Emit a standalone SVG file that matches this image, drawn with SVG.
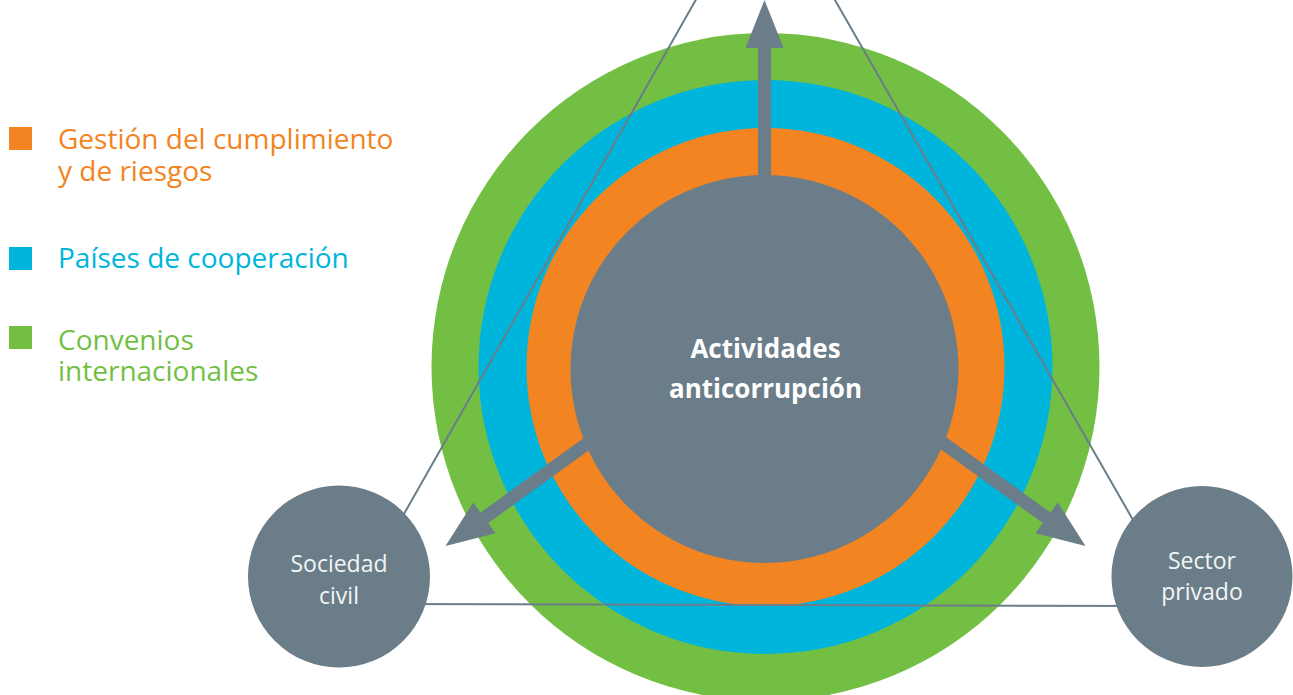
<svg xmlns="http://www.w3.org/2000/svg" width="1293" height="695" viewBox="0 0 1293 695">
  <style>
    .legend { font-family: "Open Sans", "Liberation Sans", sans-serif; font-size: 28px; }
    .center-label { font-family: "Open Sans", "Liberation Sans", sans-serif; font-size: 26px; font-weight: bold; fill: #ffffff; text-anchor: middle; }
    .node-label { font-family: "Open Sans", "Liberation Sans", sans-serif; font-size: 23px; fill: #f2f5f6; text-anchor: middle; }
    .tri { stroke: #6b7d88; stroke-width: 2; fill: none; }
    .gray { fill: #6b7d88; }
  </style>
  <defs>
    <path id="arrowUp" d="M0,0 L19,48 L6.5,48 L6.5,180 L-6.5,180 L-6.5,48 L-19,48 Z" fill="#6b7d88"/>
  </defs>

  <g id="legend">
    <rect x="9" y="127" width="23" height="23" fill="#f28421"/>
    <text class="legend" x="58" y="149" fill="#f28421">Gestión del cumplimiento</text>
    <text class="legend" x="58" y="181" fill="#f28421">y de riesgos</text>
    <rect x="9" y="247" width="23" height="23" fill="#00b5db"/>
    <text class="legend" x="58" y="268" fill="#00b5db">Países de cooperación</text>
    <rect x="9" y="326" width="23" height="23" fill="#72bf44"/>
    <text class="legend" x="58" y="350" fill="#72bf44">Convenios</text>
    <text class="legend" x="58" y="381" fill="#72bf44">internacionales</text>
  </g>

  <g id="rings">
    <circle id="ring-green" cx="765.5" cy="367" r="334" fill="#72bf44"/>
    <circle id="ring-blue" cx="765.5" cy="367" r="287" fill="#00b5db"/>
    <circle id="ring-orange" cx="765.5" cy="367" r="239" fill="#f28421"/>
  </g>

  <g id="center">
    <circle class="gray" cx="764.5" cy="369" r="194"/>
  </g>

  <g id="connectors">
    <polyline class="tri" points="375,565 765,-122 1160,567"/>
    <line class="tri" x1="380" y1="604" x2="1160" y2="606"/>
    <use href="#arrowUp" transform="translate(764.5,0)"/>
    <use href="#arrowUp" transform="translate(445.5,546) rotate(-125.9)"/>
    <use href="#arrowUp" transform="translate(1085.5,546) rotate(125.9)"/>
  </g>

  <g id="center-text">
    <text class="center-label" x="765.5" y="358">Actividades</text>
    <text class="center-label" x="765.5" y="398">anticorrupción</text>
  </g>

  <g id="sociedad-civil">
    <circle class="gray" cx="339" cy="576.5" r="91"/>
    <text class="node-label" x="339" y="572">Sociedad</text>
    <text class="node-label" x="339" y="604">civil</text>
  </g>

  <g id="sector-privado">
    <circle class="gray" cx="1202" cy="576.5" r="90.5"/>
    <text class="node-label" x="1202" y="569">Sector</text>
    <text class="node-label" x="1202" y="600">privado</text>
  </g>
</svg>
